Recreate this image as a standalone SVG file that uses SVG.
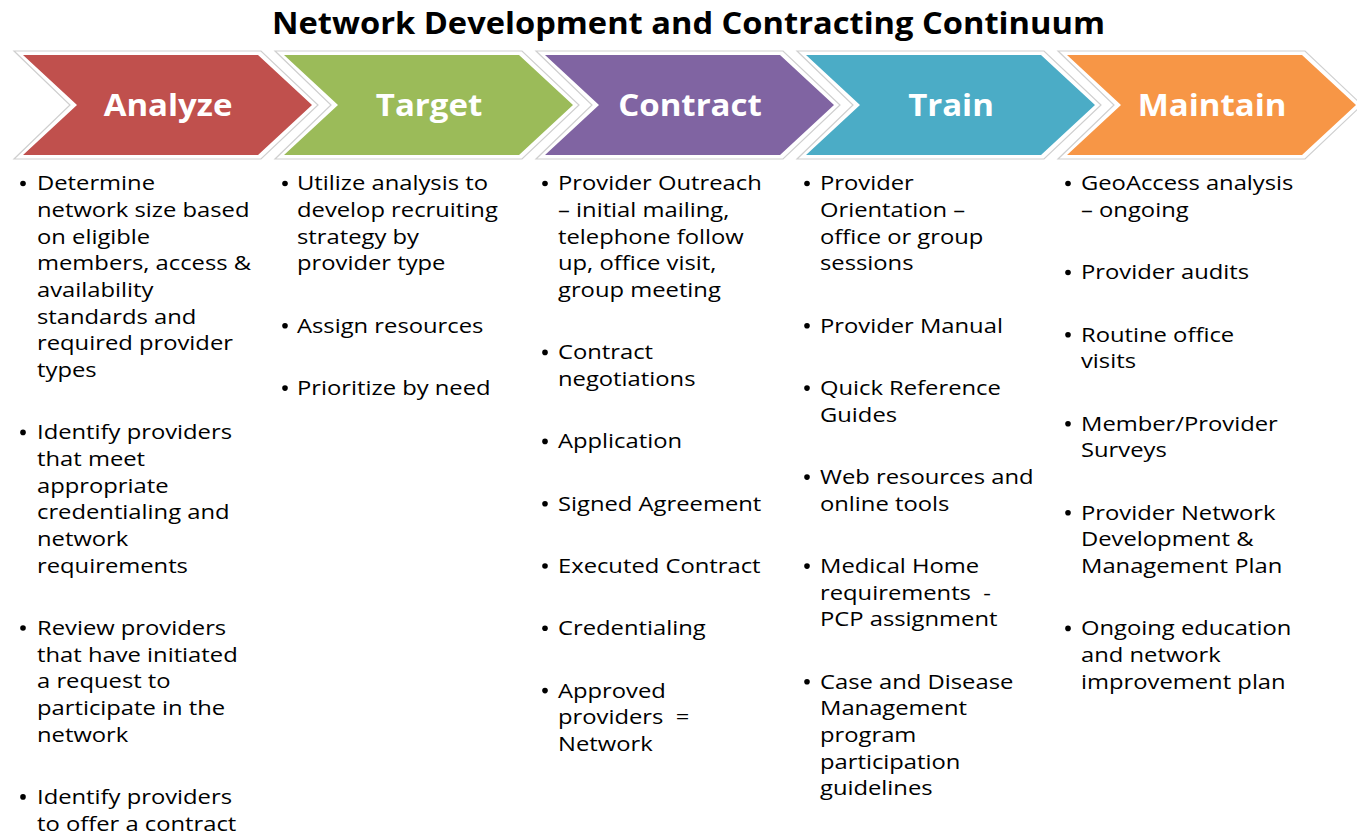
<svg xmlns="http://www.w3.org/2000/svg" width="1357" height="834" viewBox="0 0 1357 834">
<style>
.title{font-family:"Open Sans","Noto Sans",sans-serif;font-weight:700;font-size:30px;fill:#000}
.head{font-family:"Open Sans","Noto Sans",sans-serif;font-weight:700;font-size:30px;fill:#fff;text-anchor:middle}
.body{font-family:"Open Sans","Noto Sans",sans-serif;font-size:20.5px;fill:#000}
.outer{fill:#fff;stroke:#cfcfcf;stroke-width:1.2}
.dot{fill:#000}
</style>
<defs>
<polygon id="outer" points="-9,51 238,51 295,105 238,159 -9,159 47,105"/>
<polygon id="chev" points="0,55 235,55 289,105 235,155 0,155 54,105"/>
<circle id="b" r="2.8"/>
</defs>
<rect width="1357" height="834" fill="#fff"/>
<text class="title" x="272" y="34" textLength="833" lengthAdjust="spacingAndGlyphs">Network Development and Contracting Continuum</text>

<g id="analyze" transform="translate(23,0)">
<use href="#outer" class="outer"/>
<use href="#chev" fill="#C0504D"/>
<text class="head" transform="translate(145,116) scale(1.1,1)">Analyze</text>
</g>
<g id="target" transform="translate(284,0)">
<use href="#outer" class="outer"/>
<use href="#chev" fill="#9BBB59"/>
<text class="head" transform="translate(145,116) scale(1.1,1)">Target</text>
</g>
<g id="contract" transform="translate(545,0)">
<use href="#outer" class="outer"/>
<use href="#chev" fill="#8064A2"/>
<text class="head" transform="translate(145,116) scale(1.1,1)">Contract</text>
</g>
<g id="train" transform="translate(806,0)">
<use href="#outer" class="outer"/>
<use href="#chev" fill="#4BACC6"/>
<text class="head" transform="translate(145,116) scale(1.1,1)">Train</text>
</g>
<g id="maintain" transform="translate(1067,0)">
<use href="#outer" class="outer"/>
<use href="#chev" fill="#F79646"/>
<text class="head" transform="translate(145,116) scale(1.1,1)">Maintain</text>
</g>

<g id="connectors"></g>

<g id="col-analyze">
<g class="dot">
<use href="#b" x="23" y="183.5"/><use href="#b" x="23" y="432.4"/><use href="#b" x="23" y="628"/><use href="#b" x="23" y="796.9"/>
</g>
<text class="body" transform="translate(37,0) scale(1.16,1)">
<tspan x="0" y="190.5">Determine</tspan>
<tspan x="0" y="217.2">network size based</tspan>
<tspan x="0" y="243.8">on eligible</tspan>
<tspan x="0" y="270.5">members, access &amp;</tspan>
<tspan x="0" y="297.1">availability</tspan>
<tspan x="0" y="323.8">standards and</tspan>
<tspan x="0" y="350.4">required provider</tspan>
<tspan x="0" y="377.1">types</tspan>
<tspan x="0" y="439.4">Identify providers</tspan>
<tspan x="0" y="466.1">that meet</tspan>
<tspan x="0" y="492.7">appropriate</tspan>
<tspan x="0" y="519.4">credentialing and</tspan>
<tspan x="0" y="546">network</tspan>
<tspan x="0" y="572.7">requirements</tspan>
<tspan x="0" y="635">Review providers</tspan>
<tspan x="0" y="661.7">that have initiated</tspan>
<tspan x="0" y="688.3">a request to</tspan>
<tspan x="0" y="715">participate in the</tspan>
<tspan x="0" y="741.6">network</tspan>
<tspan x="0" y="803.9">Identify providers</tspan>
<tspan x="0" y="830.6">to offer a contract</tspan>
</text>
</g>

<g id="col-target">
<g class="dot">
<use href="#b" x="285" y="183.5"/><use href="#b" x="285" y="325.8"/><use href="#b" x="285" y="388.1"/>
</g>
<text class="body" transform="translate(297,0) scale(1.16,1)">
<tspan x="0" y="190.5">Utilize analysis to</tspan>
<tspan x="0" y="217.2">develop recruiting</tspan>
<tspan x="0" y="243.8">strategy by</tspan>
<tspan x="0" y="270.5">provider type</tspan>
<tspan x="0" y="332.8">Assign resources</tspan>
<tspan x="0" y="395.1">Prioritize by need</tspan>
</text>
</g>

<g id="col-contract">
<g class="dot">
<use href="#b" x="545" y="183.5"/><use href="#b" x="545" y="352.4"/><use href="#b" x="545" y="441.4"/><use href="#b" x="545" y="503.7"/><use href="#b" x="545" y="566"/><use href="#b" x="545" y="628.3"/><use href="#b" x="545" y="690.6"/>
</g>
<text class="body" transform="translate(558,0) scale(1.16,1)">
<tspan x="0" y="190.5">Provider Outreach</tspan>
<tspan x="0" y="217.2">– initial mailing,</tspan>
<tspan x="0" y="243.8">telephone follow</tspan>
<tspan x="0" y="270.5">up, office visit,</tspan>
<tspan x="0" y="297.1">group meeting</tspan>
<tspan x="0" y="359.4">Contract</tspan>
<tspan x="0" y="386.1">negotiations</tspan>
<tspan x="0" y="448.4">Application</tspan>
<tspan x="0" y="510.7">Signed Agreement</tspan>
<tspan x="0" y="573">Executed Contract</tspan>
<tspan x="0" y="635.3">Credentialing</tspan>
<tspan x="0" y="697.6">Approved</tspan>
<tspan x="0" y="724.3">providers &#160;=</tspan>
<tspan x="0" y="750.9">Network</tspan>
</text>
</g>

<g id="col-train">
<g class="dot">
<use href="#b" x="807" y="183.5"/><use href="#b" x="807" y="325.8"/><use href="#b" x="807" y="388.1"/><use href="#b" x="807" y="477.1"/><use href="#b" x="807" y="566.1"/><use href="#b" x="807" y="681.7"/>
</g>
<text class="body" transform="translate(820,0) scale(1.16,1)">
<tspan x="0" y="190.5">Provider</tspan>
<tspan x="0" y="217.2">Orientation –</tspan>
<tspan x="0" y="243.8">office or group</tspan>
<tspan x="0" y="270.5">sessions</tspan>
<tspan x="0" y="332.8">Provider Manual</tspan>
<tspan x="0" y="395.1">Quick Reference</tspan>
<tspan x="0" y="421.8">Guides</tspan>
<tspan x="0" y="484.1">Web resources and</tspan>
<tspan x="0" y="510.8">online tools</tspan>
<tspan x="0" y="573.1">Medical Home</tspan>
<tspan x="0" y="599.8">requirements &#160;-</tspan>
<tspan x="0" y="626.4">PCP assignment</tspan>
<tspan x="0" y="688.7">Case and Disease</tspan>
<tspan x="0" y="715.4">Management</tspan>
<tspan x="0" y="742">program</tspan>
<tspan x="0" y="768.7">participation</tspan>
<tspan x="0" y="795.3">guidelines</tspan>
</text>
</g>

<g id="col-maintain">
<g class="dot">
<use href="#b" x="1068" y="183.5"/><use href="#b" x="1068" y="272.5"/><use href="#b" x="1068" y="334.8"/><use href="#b" x="1068" y="423.8"/><use href="#b" x="1068" y="512.8"/><use href="#b" x="1068" y="628.4"/>
</g>
<text class="body" transform="translate(1081,0) scale(1.16,1)">
<tspan x="0" y="190.5">GeoAccess analysis</tspan>
<tspan x="0" y="217.2">– ongoing</tspan>
<tspan x="0" y="279.5">Provider audits</tspan>
<tspan x="0" y="341.8">Routine office</tspan>
<tspan x="0" y="368.5">visits</tspan>
<tspan x="0" y="430.8">Member/Provider</tspan>
<tspan x="0" y="457.5">Surveys</tspan>
<tspan x="0" y="519.8">Provider Network</tspan>
<tspan x="0" y="546.5">Development &amp;</tspan>
<tspan x="0" y="573.1">Management Plan</tspan>
<tspan x="0" y="635.4">Ongoing education</tspan>
<tspan x="0" y="662.1">and network</tspan>
<tspan x="0" y="688.7">improvement plan</tspan>
</text>
</g>
</svg>
